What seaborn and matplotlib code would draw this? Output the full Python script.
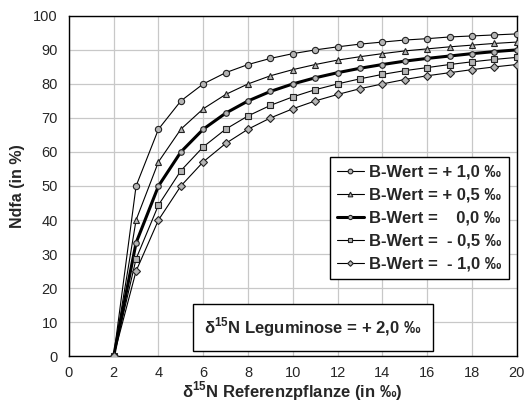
import matplotlib
matplotlib.use("Agg")
import matplotlib.pyplot as plt
import seaborn as sns
import pandas as pd

x_ref = [2, 3, 4, 5, 6, 7, 8, 9, 10, 11, 12, 13, 14, 15, 16, 17, 18, 19, 20]
b_p10 = [0, 50.0, 66.7, 75.0, 80.0, 83.3, 85.7, 87.5, 88.9, 90.0, 90.9, 91.7, 92.3, 92.9, 93.3, 93.8, 94.1, 94.4, 94.7]
b_p05 = [0, 40.0, 57.1, 66.7, 72.7, 76.9, 80.0, 82.4, 84.2, 85.7, 87.0, 88.0, 88.9, 89.7, 90.3, 90.9, 91.4, 91.9, 92.3]
b_000 = [0, 33.3, 50.0, 60.0, 66.7, 71.4, 75.0, 77.8, 80.0, 81.8, 83.3, 84.6, 85.7, 86.7, 87.5, 88.2, 88.9, 89.5, 90.0]
b_m05 = [0, 28.6, 44.4, 54.5, 61.5, 66.7, 70.6, 73.7, 76.2, 78.3, 80.0, 81.5, 82.8, 83.9, 84.8, 85.7, 86.5, 87.2, 87.8]
b_m10 = [0, 25.0, 40.0, 50.0, 57.1, 62.5, 66.7, 70.0, 72.7, 75.0, 76.9, 78.6, 80.0, 81.3, 82.4, 83.3, 84.2, 85.0, 85.7]

labels = ["B-Wert = + 1,0 ‰", "B-Wert = + 0,5 ‰", "B-Wert =    0,0 ‰",
          "B-Wert =  - 0,5 ‰", "B-Wert =  - 1,0 ‰"]
series = [b_p10, b_p05, b_000, b_m05, b_m10]
markers = ["o", "^", "o", "s", "D"]
sizes = [4.5, 4.5, 4.0, 4.2, 3.8]
widths = [0.8, 0.8, 2.2, 0.8, 0.8]

x_label = r"δ$^{15}$N Referenzpflanze (in ‰)"
y_label = "Ndfa (in %)"
note = r"δ$^{15}$N Leguminose = + 2,0 ‰"

sns.set_style("white")
plt.rcParams["font.family"] = ["Liberation Sans", "DejaVu Sans"]
plt.rcParams["mathtext.fontset"] = "custom"
plt.rcParams["mathtext.rm"] = "Liberation Sans:bold"
plt.rcParams["mathtext.bf"] = "Liberation Sans:bold"

fig = plt.figure(figsize=(5.30, 4.07), dpi=100)
ax = fig.add_axes([0.130, 0.125, 0.845, 0.836])

for lab, ys, m, ms, lw in zip(labels, series, markers, sizes, widths):
    df = pd.DataFrame({"x": x_ref, "y": ys})
    sns.lineplot(data=df, x="x", y="y", ax=ax, color="black", linewidth=lw,
                 marker=m, markersize=ms, markerfacecolor="#b4b4b4",
                 markeredgecolor="#222222", markeredgewidth=0.8, label=lab,
                 zorder=3)

ax.set_xlim(0, 20)
ax.set_ylim(0, 100)
ax.set_xticks(range(0, 21, 2))
ax.set_yticks(range(0, 101, 10))
ax.grid(True, color="#c8c8c8", linewidth=0.9)
for s in ax.spines.values():
    s.set_color("black")
    s.set_linewidth(1.0)
ax.tick_params(axis="x", direction="inout", length=6, width=1, labelsize=10.5, pad=4)
ax.tick_params(axis="y", direction="out", length=5, width=1, labelsize=10.5, pad=3)
ax.set_xlabel(x_label, fontsize=12, fontweight="bold", labelpad=0)
ax.set_ylabel(y_label, fontsize=11.5, fontweight="bold", labelpad=6)

leg = ax.legend(loc="upper right", bbox_to_anchor=(0.982, 0.585),
                prop={"weight": "bold", "size": 12}, handlelength=1.6,
                handletextpad=0.3, labelspacing=0.48, borderpad=0.45,
                borderaxespad=0, fancybox=False, framealpha=1, markerscale=0.75)
leg.get_frame().set_edgecolor("black")
leg.get_frame().set_linewidth(1.0)

ax.text(0.545, 0.084, note, transform=ax.transAxes, ha="center", va="center",
        fontsize=12, fontweight="bold", zorder=5,
        bbox=dict(boxstyle="square,pad=0.7", facecolor="white",
                  edgecolor="black", linewidth=1.0))

fig.savefig("out.png", dpi=100)
